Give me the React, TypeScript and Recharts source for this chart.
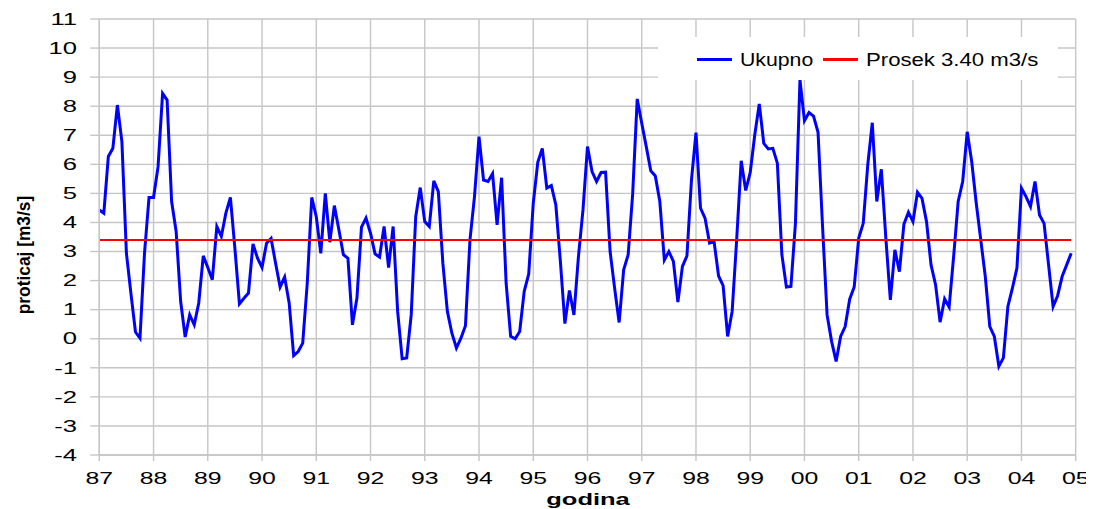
import { LineChart, Line, XAxis, YAxis, CartesianGrid, Legend, Label } from 'recharts'

// monthly flow, Jan 1987 .. Dec 2004
const UKUPNO = [
  4.43, 4.32, 6.27, 6.55, 8.04, 6.78, 2.94, 1.55, 0.23, 0.02, 2.94, 4.86,
  4.86, 5.92, 8.44, 8.21, 4.72, 3.69, 1.28, 0.06, 0.82, 0.48, 1.23, 2.85,
  2.45, 2.03, 3.86, 3.52, 4.32, 4.86, 3.1, 1.2, 1.39, 1.57, 3.26, 2.77,
  2.45, 3.29, 3.45, 2.6, 1.78, 2.12, 1.23, -0.58, -0.44, -0.15, 1.9, 4.86,
  4.2, 2.94, 5.0, 3.32, 4.58, 3.75, 2.89, 2.77, 0.48, 1.4, 3.84, 4.15,
  3.63, 2.92, 2.81, 3.86, 2.45, 3.86, 0.94, -0.69, -0.66, 0.82, 4.2, 5.2,
  4.03, 3.86, 5.43, 5.06, 2.6, 0.94, 0.19, -0.32, 0.02, 0.45, 3.4, 4.89,
  6.95, 5.46, 5.41, 5.68, 3.92, 5.54, 1.91, 0.08, 0.0, 0.25, 1.63, 2.23,
  4.66, 6.07, 6.55, 5.18, 5.27, 4.6, 2.66, 0.52, 1.66, 0.82, 2.83, 4.43,
  6.61, 5.75, 5.41, 5.72, 5.73, 3.0, 1.74, 0.56, 2.37, 2.89, 5.0, 8.25,
  7.41, 6.61, 5.78, 5.6, 4.72, 2.71, 3.0, 2.66, 1.26, 2.49, 2.85, 5.46,
  7.09, 4.49, 4.15, 3.29, 3.34, 2.16, 1.83, 0.08, 0.94, 3.4, 6.12, 5.1,
  5.72, 7.01, 8.08, 6.72, 6.53, 6.55, 6.04, 2.89, 1.78, 1.8, 3.97, 8.9,
  7.5, 7.78, 7.66, 7.1, 3.86, 0.82, -0.09, -0.78, 0.08, 0.42, 1.36, 1.78,
  3.46, 3.97, 5.98, 7.43, 4.72, 5.83, 3.46, 1.34, 3.06, 2.31, 3.94, 4.35,
  4.03, 5.04, 4.83, 4.03, 2.54, 1.86, 0.57, 1.37, 1.09, 2.83, 4.72, 5.41,
  7.12, 6.09, 4.66, 3.4, 2.14, 0.42, 0.08, -0.95, -0.66, 1.11, 1.74, 2.43,
  5.18, 4.89, 4.55, 5.41, 4.26, 3.97, 2.54, 1.11, 1.48, 2.14, 2.54, 2.94,
]
const PROSEK = 3.4
const YEARS = ['87', '88', '89', '90', '91', '92', '93', '94', '95', '96', '97', '98', '99', '00', '01', '02', '03', '04', '05']
const Y_TICKS = [-4, -3, -2, -1, 0, 1, 2, 3, 4, 5, 6, 7, 8, 9, 10, 11]

const data = UKUPNO.map((v, i) => ({ m: i, ukupno: v, prosek: PROSEK }))
const xTicks = YEARS.map((_, i) => i * 12)

const FONT = 'Liberation Sans, Arial, sans-serif'
const GRID = '#c6c6c6'

function XTick({ x, payload }: any) {
  return (
    <text transform={`translate(${x},476) scale(1.55,1)`} textAnchor="middle" fontSize={16} fontFamily={FONT} fill="#000">
      {YEARS[Math.round(payload.value / 12)]}
    </text>
  )
}

function YTick({ y, payload }: any) {
  return (
    <text transform={`translate(69,${y}) scale(1.6,1)`} textAnchor="end" dy="0.36em" fontSize={16} fontFamily={FONT} fill="#000">
      {payload.value}
    </text>
  )
}

function LegendBox() {
  const txt = { position: 'absolute' as const, top: 13.5, fontSize: 18, lineHeight: '18px', fontFamily: FONT, color: '#000', whiteSpace: 'nowrap' as const, transformOrigin: 'left center' }
  return (
    <div style={{ position: 'relative', width: 400, height: 43, background: '#fff' }}>
      <div style={{ position: 'absolute', left: 39, top: 20.5, width: 35, height: 3, background: '#0000ff' }} />
      <span style={{ ...txt, left: 82, transform: 'scaleX(1.18)' }}>Ukupno</span>
      <div style={{ position: 'absolute', left: 165, top: 21, width: 35, height: 2.5, background: '#ff0000' }} />
      <span style={{ ...txt, left: 208, transform: 'scaleX(1.23)' }}>Prosek 3.40 m3/s</span>
    </div>
  )
}

export default function App() {
  return (
    <LineChart width={1086} height={501} data={data} margin={{ top: 11, right: 18.3, bottom: 14, left: 31.3 }}>
      <CartesianGrid stroke={GRID} strokeWidth={1.4} />
      <XAxis
        dataKey="m"
        type="number"
        domain={[0, 216]}
        ticks={xTicks}
        interval={0}
        height={40}
        tickSize={6}
        stroke={GRID}
        tickLine={{ stroke: GRID, strokeWidth: 1.4 }}
        axisLine={{ stroke: GRID, strokeWidth: 1.4 }}
        tick={<XTick />}
      >
        <Label
          content={() => (
            <text transform="translate(580,497) scale(1.5,1)" textAnchor="middle" fontSize={17} fontWeight="bold" fontFamily={FONT} fill="#000">
              godina
            </text>
          )}
        />
      </XAxis>
      <YAxis
        type="number"
        domain={[-4, 11]}
        ticks={Y_TICKS}
        interval={0}
        width={60}
        tickSize={9}
        stroke={GRID}
        tickLine={{ stroke: GRID, strokeWidth: 1.4 }}
        axisLine={{ stroke: GRID, strokeWidth: 1.4 }}
        tick={<YTick />}
      >
        <Label
          content={() => (
            <text transform="translate(16,247) rotate(-90) scale(1.02,1.08)" textAnchor="middle" dy="0.35em" fontSize={17} fontWeight="bold" fontFamily={FONT} fill="#000">
              proticaj [m3/s]
            </text>
          )}
        />
      </YAxis>
      <Line type="linear" dataKey="ukupno" stroke="#0000ff" strokeWidth={3} dot={false} isAnimationActive={false} />
      <Line type="linear" dataKey="prosek" stroke="#ff0000" strokeWidth={2} dot={false} isAnimationActive={false} />
      <Legend layout="horizontal" verticalAlign="middle" align="center" content={<LegendBox />} wrapperStyle={{ left: 650, top: 29, width: 400, height: 43 }} />
    </LineChart>
  )
}
